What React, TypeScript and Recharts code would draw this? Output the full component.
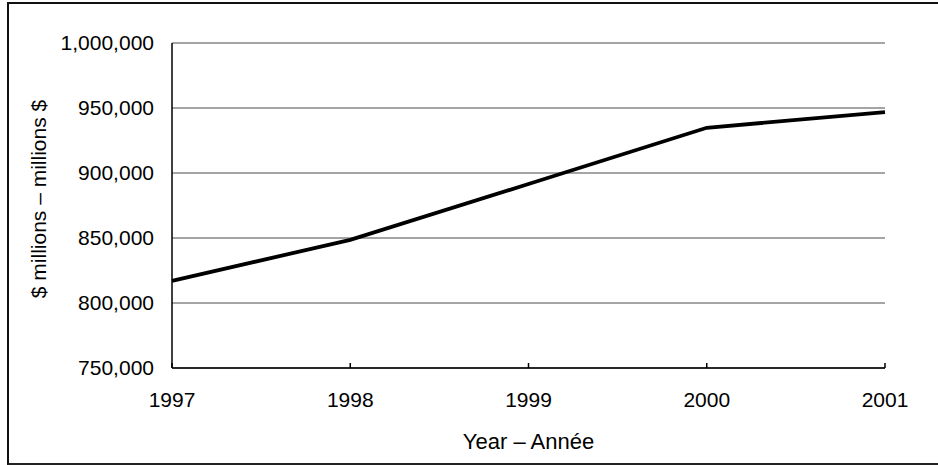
import React from 'react';
import { LineChart, Line, XAxis, YAxis, CartesianGrid, Label } from 'recharts';

const years = ['1997', '1998', '1999', '2000', '2001'];
const amounts = [817000, 848600, 891500, 934800, 946800];
const yTicks = [750000, 800000, 850000, 900000, 950000, 1000000];

const data = years.map((year, i) => ({ year, amount: amounts[i] }));

const FONT = '"Liberation Sans", Arial, sans-serif';
const X_TICK_GAP = 24;

// tick mark pointing up into the plot, label below the axis
const YearTick = (props: any) => {
  const { x, y, payload } = props;
  const axisY = y - X_TICK_GAP;
  return (
    <g>
      <line x1={x} x2={x} y1={axisY} y2={axisY - 5} stroke="#000" strokeWidth={1.5} />
      <text x={x} y={y + 14.5} textAnchor="middle" fontFamily={FONT} fontSize={21} fill="#000">
        {payload.value}
      </text>
    </g>
  );
};

const YTitle = (props: any) => {
  const vb = props.viewBox || { x: 0, y: 0, width: 0, height: 0 };
  const cx = vb.x + 34;
  const cy = vb.y + vb.height / 2 - 6.5;
  return (
    <text
      x={cx}
      y={cy}
      transform={`rotate(-90 ${cx} ${cy})`}
      textAnchor="middle"
      fontFamily={FONT}
      fontSize={21}
      fill="#000"
    >
      $ millions – millions $
    </text>
  );
};

const XTitle = (props: any) => {
  const vb = props.viewBox || { x: 0, y: 0, width: 0, height: 0 };
  return (
    <text
      x={vb.x + vb.width / 2}
      y={vb.y + vb.height + 51}
      textAnchor="middle"
      fontFamily={FONT}
      fontSize={22}
      fill="#000"
    >
      Year – Année
    </text>
  );
};

export default function App() {
  return (
    <div style={{ position: 'absolute', left: 0, top: 0, width: 938, height: 465, background: '#fff', overflow: 'hidden' }}>
      <div
        style={{
          position: 'absolute',
          left: 7,
          top: 2,
          width: 960,
          height: 459,
          borderTop: '2px solid #111',
          borderLeft: '2px solid #111',
          borderBottom: '2px solid #222',
        }}
      />
      <div style={{ position: 'absolute', left: 0, top: 0 }}>
        <LineChart width={938} height={465} data={data} margin={{ top: 43, right: 53, bottom: 67, left: 12 }}>
          <CartesianGrid horizontal vertical={false} stroke="#4a4a4a" strokeWidth={1} />
          <XAxis
            dataKey="year"
            height={30}
            tickSize={0}
            tickMargin={X_TICK_GAP}
            axisLine={{ stroke: '#000', strokeWidth: 1.5 }}
            tickLine={false}
            tick={<YearTick />}
            interval={0}
          >
            <Label content={<XTitle />} />
          </XAxis>
          <YAxis
            width={160}
            domain={[750000, 1000000]}
            ticks={yTicks}
            tickFormatter={(v: number) => v.toLocaleString('en-US')}
            tickLine={false}
            tickSize={0}
            tickMargin={18}
            axisLine={{ stroke: '#000', strokeWidth: 1.5 }}
            tick={{ fill: '#000', fontSize: 21, fontFamily: FONT }}
            allowDataOverflow
          >
            <Label content={<YTitle />} />
          </YAxis>
          <Line
            type="linear"
            dataKey="amount"
            stroke="#000"
            strokeWidth={3.8}
            dot={false}
            isAnimationActive={false}
          />
        </LineChart>
      </div>
    </div>
  );
}
